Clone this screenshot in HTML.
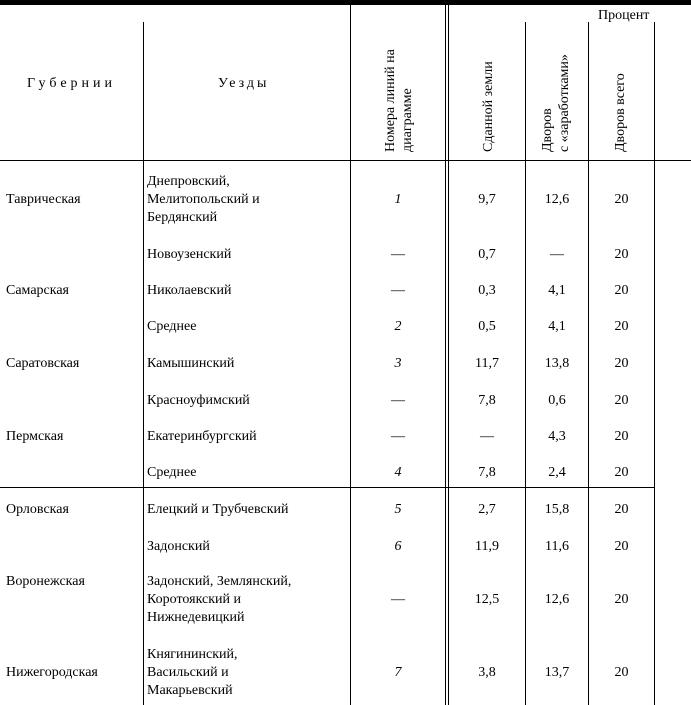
<!DOCTYPE html>
<html><head><meta charset="utf-8"><style>
body{margin:0;width:691px;height:705px;background:#fff;position:relative;overflow:hidden;font-family:"Liberation Serif",serif;font-size:14px;color:#000}
.l{position:absolute;background:#000}
.t{position:absolute;white-space:nowrap;line-height:18px}
.c{position:absolute;text-align:center;white-space:nowrap;line-height:18px}
.r{position:absolute;transform:rotate(-90deg);transform-origin:left top;white-space:nowrap;line-height:17px;font-size:14px}
i{font-style:italic}
</style></head><body>
<div class="l" style="left:0;top:0;width:691px;height:5px"></div>
<div class="l" style="left:143px;top:22px;width:1px;height:683px"></div>
<div class="l" style="left:350px;top:5px;width:1px;height:700px"></div>
<div class="l" style="left:445px;top:5px;width:1px;height:700px"></div>
<div class="l" style="left:448px;top:5px;width:1px;height:700px"></div>
<div class="l" style="left:525px;top:22px;width:1px;height:683px"></div>
<div class="l" style="left:588px;top:22px;width:1px;height:683px"></div>
<div class="l" style="left:654px;top:22px;width:1px;height:683px"></div>
<div class="l" style="left:0;top:160px;width:691px;height:1px"></div>
<div class="l" style="left:0;top:487px;width:655px;height:1px"></div>
<div class="t" style="left:598px;top:7px">Процент</div>
<div class="t" style="left:27px;top:75px;letter-spacing:4px">Губернии</div>
<div class="t" style="left:218px;top:75px;letter-spacing:3px">Уезды</div>
<div class="r" style="left:382px;top:152px">Номера линий на<br>диаграмме</div>
<div class="r" style="left:480px;top:152px">Сданной земли</div>
<div class="r" style="left:539px;top:152px">Дворов<br>с «заработками»</div>
<div class="r" style="left:612px;top:152px">Дворов всего</div>

<div class="t" style="left:6px;top:191px">Таврическая</div>
<div class="t" style="left:147px;top:173px">Днепровский,<br>Мелитопольский и<br>Бердянский</div>
<div class="t" style="left:147px;top:246px">Новоузенский</div>
<div class="t" style="left:6px;top:282px">Самарская</div>
<div class="t" style="left:147px;top:282px">Николаевский</div>
<div class="t" style="left:147px;top:318px">Среднее</div>
<div class="t" style="left:6px;top:355px">Саратовская</div>
<div class="t" style="left:147px;top:355px">Камышинский</div>
<div class="t" style="left:147px;top:392px">Красноуфимский</div>
<div class="t" style="left:6px;top:428px">Пермская</div>
<div class="t" style="left:147px;top:428px">Екатеринбургский</div>
<div class="t" style="left:147px;top:464px">Среднее</div>
<div class="t" style="left:6px;top:501px">Орловская</div>
<div class="t" style="left:147px;top:501px">Елецкий и Трубчевский</div>
<div class="t" style="left:147px;top:538px">Задонский</div>
<div class="t" style="left:6px;top:573px">Воронежская</div>
<div class="t" style="left:147px;top:573px">Задонский, Землянский,<br>Коротоякский и<br>Нижнедевицкий</div>
<div class="t" style="left:6px;top:664px">Нижегородская</div>
<div class="t" style="left:147px;top:646px">Княгининский,<br>Васильский и<br>Макарьевский</div>

<div id="rows"></div>
<script>
var rows=[[191,"<i>1</i>","9,7","12,6"],[246,"—","0,7","—"],[282,"—","0,3","4,1"],[318,"<i>2</i>","0,5","4,1"],[355,"<i>3</i>","11,7","13,8"],[392,"—","7,8","0,6"],[428,"—","—","4,3"],[464,"<i>4</i>","7,8","2,4"],[501,"<i>5</i>","2,7","15,8"],[538,"<i>6</i>","11,9","11,6"],[591,"—","12,5","12,6"],[664,"<i>7</i>","3,8","13,7"]];
var h="";rows.forEach(function(r){
h+='<div class="c" style="left:351px;width:94px;top:'+r[0]+'px">'+r[1]+'</div>';
h+='<div class="c" style="left:449px;width:76px;top:'+r[0]+'px">'+r[2]+'</div>';
h+='<div class="c" style="left:526px;width:62px;top:'+r[0]+'px">'+r[3]+'</div>';
h+='<div class="c" style="left:589px;width:65px;top:'+r[0]+'px">20</div>';});
document.getElementById("rows").innerHTML=h;
</script>
</body></html>
